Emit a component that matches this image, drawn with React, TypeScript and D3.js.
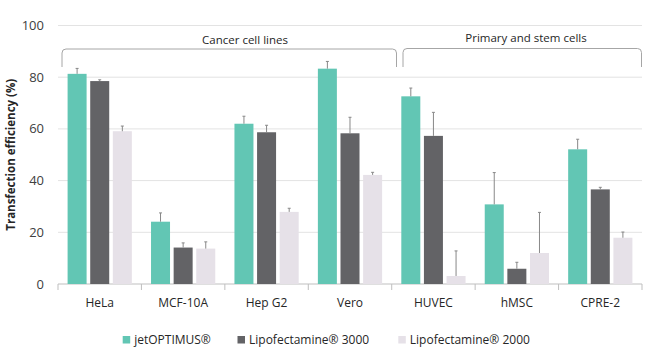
import React from "react";
import * as d3 from "d3";

const categories = ["HeLa", "MCF-10A", "Hep G2", "Vero", "HUVEC", "hMSC", "CPRE-2"];
const seriesNames = ["jetOPTIMUS®", "Lipofectamine® 3000", "Lipofectamine® 2000"];
const jetOptimus = [81.3, 24.1, 62.0, 83.3, 72.6, 30.8, 52.1];
const jetOptimusErr = [2.1, 3.4, 2.9, 2.8, 3.2, 12.3, 3.9];
const lipo3000 = [78.5, 14.1, 58.7, 58.3, 57.3, 5.9, 36.6];
const lipo3000Err = [0.5, 1.8, 2.7, 6.2, 9.1, 2.5, 0.8];
const lipo2000 = [59.1, 13.7, 27.9, 42.2, 3.1, 12.0, 17.9];
const lipo2000Err = [2.0, 2.6, 1.4, 1.0, 9.7, 15.7, 2.2];
const yTicks = [0, 20, 40, 60, 80, 100];
const groups = [
  { label: "Cancer cell lines", from: 0, to: 3 },
  { label: "Primary and stem cells", from: 4, to: 6 },
];
const colors = ["#62C6B4", "#636366", "#E6E1E8"];

export default function App() {
  const W = 650, H = 355;
  const left = 58, right = 642, top = 25.5, bottom = 284;
  const x0 = d3.scaleBand<string>().domain(categories).range([left, right]).padding(0);
  const bw = x0.bandwidth();
  const x1 = d3.scaleBand<number>().domain([0, 1, 2]).range([bw * 0.115, bw * 0.885]).paddingInner(0.16);
  const y = d3.scaleLinear().domain([0, 100]).range([bottom, top]);
  const vals = [jetOptimus, lipo3000, lipo2000];
  const errs = [jetOptimusErr, lipo3000Err, lipo2000Err];
  const font = "'Open Sans', 'Segoe UI', sans-serif";

  const bracketPath = (x1p: number, x2p: number, yTop: number, yBot: number) => {
    const r = 4;
    return `M${x1p},${yBot} L${x1p},${yTop + r} Q${x1p},${yTop} ${x1p + r},${yTop} L${x2p - r},${yTop} Q${x2p},${yTop} ${x2p},${yTop + r} L${x2p},${yBot}`;
  };

  return (
    <svg width={W} height={H} style={{ position: "absolute", left: 0, top: 0, background: "#fff" }} fontFamily={font}>
      {yTicks.map((t) => (
        <g key={t}>
          {t > 0 && <line x1={left} x2={right} y1={y(t)} y2={y(t)} stroke="#e3e3e3" strokeWidth={1} />}
          <text x={44} y={y(t)} dy="0.35em" textAnchor="end" fontSize={13} fill="#404040">{t}</text>
        </g>
      ))}
      <line x1={left} x2={right} y1={bottom} y2={bottom} stroke="#bfbfbf" strokeWidth={1} />
      {categories.map((c, i) => (
        <line key={"tk" + i} x1={x0(c)!} x2={x0(c)!} y1={bottom} y2={bottom + 6} stroke="#bfbfbf" />
      ))}
      <line x1={right} x2={right} y1={bottom} y2={bottom + 6} stroke="#bfbfbf" />
      {categories.map((c, i) => (
        <g key={c} transform={`translate(${x0(c)},0)`}>
          {vals.map((v, s) => {
            const bx = x1(s)!;
            const w = x1.bandwidth();
            const cx = bx + w / 2;
            return (
              <g key={s}>
                <rect x={bx} y={y(v[i])} width={w} height={bottom - y(v[i])} fill={colors[s]} />
                <line x1={cx} x2={cx} y1={y(v[i])} y2={y(v[i] + errs[s][i])} stroke="#888" strokeWidth={1} />
                <line x1={cx - 1.5} x2={cx + 1.5} y1={y(v[i] + errs[s][i])} y2={y(v[i] + errs[s][i])} stroke="#888" strokeWidth={1} />
              </g>
            );
          })}
          <text x={bw / 2} y={307} textAnchor="middle" fontSize={12} fill="#262626">{c}</text>
        </g>
      ))}
      {groups.map((g, i) => {
        const xa = i === 0 ? 62 : 403;
        const xb = i === 0 ? 396.5 : 641.5;
        const yt = i === 0 ? 49 : 48.5;
        return (
          <g key={g.label}>
            <path d={bracketPath(xa, xb, yt, 67)} fill="none" stroke="#a6a6a6" strokeWidth={1} />
            <text x={i === 0 ? 245 : 526} y={i === 0 ? 44 : 42} textAnchor="middle" fontSize={11.5} fill="#262626">{g.label}</text>
          </g>
        );
      })}
      <text transform={`translate(15,${(top + bottom) / 2}) rotate(-90)`} textAnchor="middle" fontSize={11.5} fontWeight="bold" fill="#262626">
        Transfection efficiency (%)
      </text>
      {seriesNames.map((n, s) => {
        const lx = [122.7, 237.5, 398.3][s];
        return (
          <g key={n}>
            <rect x={lx} y={336} width={7.5} height={7.5} fill={colors[s]} />
            <text x={lx + 11.5} y={343.5} fontSize={12} fill="#262626">{n}</text>
          </g>
        );
      })}
    </svg>
  );
}
